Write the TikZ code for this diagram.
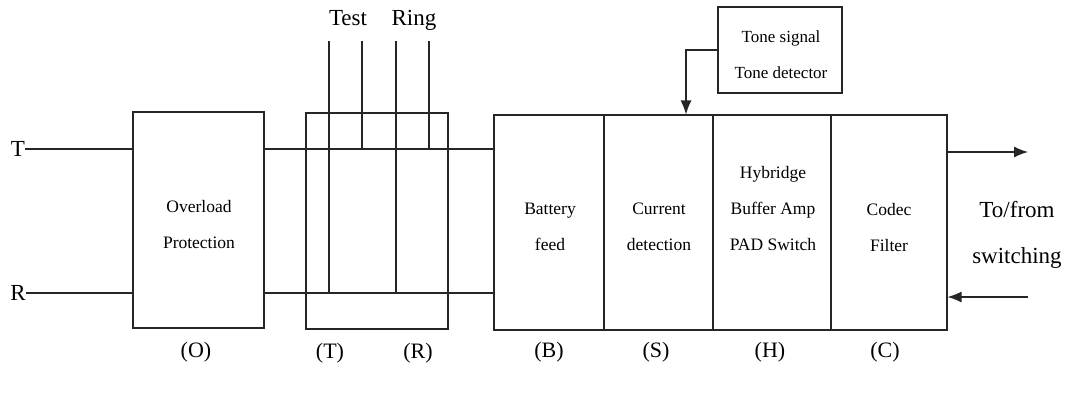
\documentclass[tikz,border=0pt]{standalone}
\usepackage{fontspec}
\setmainfont{Liberation Serif}
\usetikzlibrary{arrows.meta}
\begin{document}
\begin{tikzpicture}[x=1pt,y=-1pt,
  box/.style={draw=black!85,line width=1.1pt,inner sep=0pt},
  btxt/.style={inner sep=0pt,align=center,font=\fontsize{17.5}{36}\selectfont},
  wire/.style={draw=black!85,line width=1.2pt},
  arr/.style={wire,-{Latex[length=14pt,width=11pt]}},
  lbl/.style={font=\fontsize{23}{28}\selectfont,inner sep=0pt},
  tag/.style={font=\fontsize{22}{26}\selectfont,inner sep=0pt}]
\useasboundingbox (0,0) rectangle (1072,394);
% boxes
\node[box,minimum width=131pt,minimum height=216pt] (O) at (198.5,220) {};
\node[box,minimum width=142pt,minimum height=216pt] (TR) at (377,221) {};
\node[box,minimum width=110pt,minimum height=215pt] (B) at (549,222.5) {};
\node[box,minimum width=109pt,minimum height=215pt] (S) at (658.5,222.5) {};
\node[box,minimum width=118pt,minimum height=215pt] (H) at (772,222.5) {};
\node[box,minimum width=116pt,minimum height=215pt] (C) at (889,222.5) {};
\node[box,minimum width=124pt,minimum height=86pt] (Tone) at (780,50) {};
% box texts
\node[btxt] (Otx) at (199,225) {Overload\\Protection};
\node[btxt] (Btx) at (550,226.5) {Battery\\feed};
\node[btxt] (Stx) at (659,226.5) {Current\\detection};
\node[btxt] (Htx) at (773,209) {Hybridge\\Buffer Amp\\PAD Switch};
\node[btxt] (Ctx) at (889,227.5) {Codec\\Filter};
\node[btxt,font=\fontsize{17}{36}\selectfont] (Ttx) at (781,55) {Tone signal\\Tone detector};
% line labels
\node[lbl] (Tl) at (18,149) {T};
\node[lbl] (Rl) at (18,293) {R};
\node[lbl,anchor=base] (Test) at (348,25) {Test};
\node[lbl,anchor=base] (Ring) at (414,25) {Ring};
\node[lbl,align=center,font=\fontsize{23}{46}\selectfont] (Sw) at (1017,235) {To/from\\switching};
% wires
\draw[wire] (Tl.east) -- (O.west |- Tl.east);
\draw[wire] (Rl.east) -- (O.west |- Rl.east);
\coordinate (Tw) at (O.east |- Tl.east);
\coordinate (Rw) at (O.east |- Rl.east);
\draw[wire] (Tw) -- (B.west |- Tw);
\draw[wire] (Rw) -- (B.west |- Rw);
% test and ring leads
\coordinate (a1) at (329,41); \coordinate (a2) at (362,41);
\coordinate (a3) at (396,41); \coordinate (a4) at (429,41);
\draw[wire] (a1) -- (a1 |- Rw);
\draw[wire] (a2) -- (a2 |- Tw);
\draw[wire] (a3) -- (a3 |- Rw);
\draw[wire] (a4) -- (a4 |- Tw);
% tone arrow
\coordinate (bend) at (686,50);
\draw[arr] (Tone.west) -- (bend) -- (bend |- S.north);
% switching arrows
\coordinate (o1) at (1028,152);
\coordinate (i1) at (1028,297);
\draw[arr] (C.east |- o1) -- (o1);
\draw[arr] (i1) -- (C.east |- i1);
% bottom tags
\node[tag] (tO) at (196,352) {(O)};
\node[tag] (tT) at (330,353) {(T)};
\node[tag] (tR) at (418,353) {(R)};
\node[tag] (tB) at (549,352) {(B)};
\node[tag] (tS) at (656,352) {(S)};
\node[tag] (tH) at (770,352) {(H)};
\node[tag] (tC) at (885,352) {(C)};
\end{tikzpicture}
\end{document}
